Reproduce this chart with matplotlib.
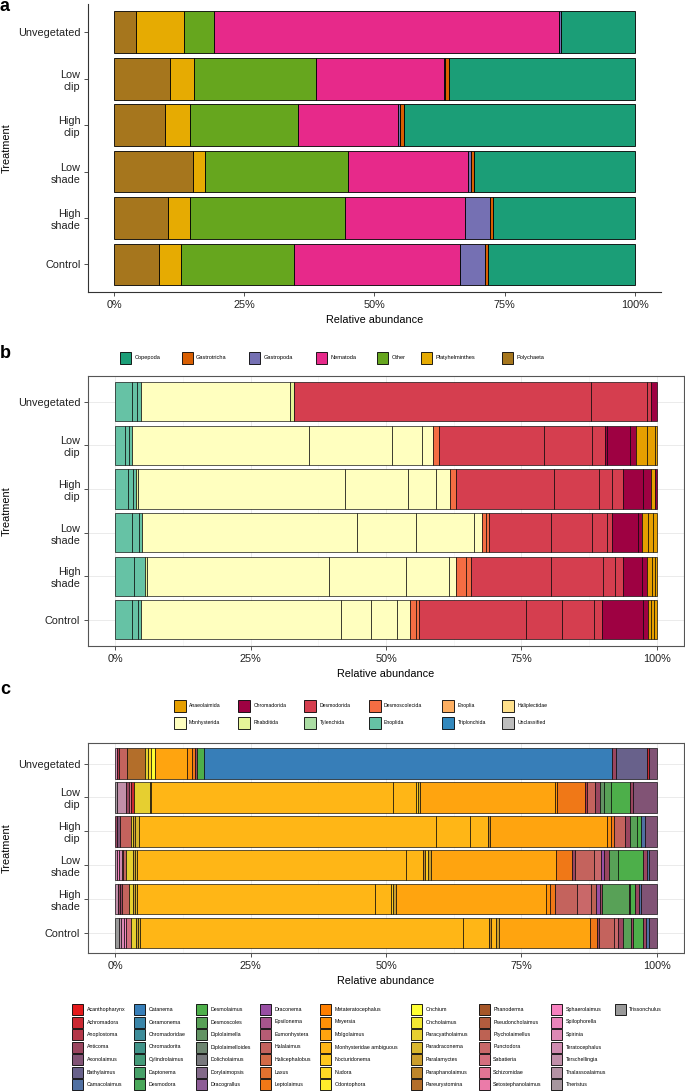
import numpy as np
import matplotlib
matplotlib.use("Agg")
import matplotlib.pyplot as plt
from matplotlib.patches import Rectangle

plt.rcParams['font.family'] = ['Liberation Sans', 'DejaVu Sans']

# ---------------- data ----------------
treatments = ["Unvegetated", "Low\nclip", "High\nclip", "Low\nshade", "High\nshade", "Control"]

# panel a (stack order left -> right), % per treatment
phyla = ["Polychaeta", "Platyhelminthes", "Other", "Nematoda", "Gastropoda", "Gastrotricha", "Copepoda"]
a_polychaeta = [4.2, 10.8, 9.7, 15.1, 10.3, 8.6]
a_platyhelminthes = [9.2, 4.5, 4.9, 2.4, 4.2, 4.3]
a_other = [5.8, 23.4, 20.7, 27.5, 29.8, 21.6]
a_nematoda = [66.2, 24.7, 19.3, 22.9, 23.1, 32.0]
a_gastropoda = [0.4, 0.2, 0.4, 0.6, 4.8, 4.8]
a_gastrotricha = [0.1, 0.8, 0.6, 0.7, 0.5, 0.6]
a_copepoda = [14.1, 35.6, 44.4, 30.8, 27.3, 28.1]

phylum_legend = ["Copepoda", "Gastrotricha", "Gastropoda", "Nematoda", "Other", "Platyhelminthes", "Polychaeta"]
phylum_colors = ["#1B9E77", "#D95F02", "#7570B3", "#E7298A", "#66A61E", "#E6AB02", "#A6761D"]

# panel b: nematode orders, segments left -> right
b_unveg_orders = ["Enoplida", "Enoplida", "Enoplida", "Monhysterida", "Rhabditida", "Desmodorida", "Desmodorida", "Desmodorida", "Chromadorida"]
b_unveg_values = [3.1, 1.0, 0.7, 27.5, 0.6, 54.8, 10.3, 0.8, 1.0]
b_lowclip_orders = ["Enoplida", "Enoplida", "Enoplida", "Monhysterida", "Monhysterida", "Monhysterida", "Monhysterida",
                    "Desmoscolecida", "Desmodorida", "Desmodorida", "Desmodorida", "Chromadorida", "Chromadorida",
                    "Chromadorida", "Anaeolaimida", "Anaeolaimida", "Anaeolaimida"]
b_lowclip_values = [1.9, 0.7, 0.6, 32.6, 15.4, 5.5, 2.0, 1.1, 19.4, 8.9, 2.4, 0.3, 4.3, 1.2, 1.9, 1.5, 0.4]
b_highclip_orders = ["Enoplida", "Enoplida", "Enoplida", "Rhabditida", "Monhysterida", "Monhysterida", "Monhysterida",
                     "Monhysterida", "Desmoscolecida", "Desmodorida", "Desmodorida", "Desmodorida", "Desmodorida",
                     "Chromadorida", "Chromadorida", "Anaeolaimida", "Chromadorida"]
b_highclip_values = [2.3, 1.0, 0.5, 0.4, 38.2, 11.6, 5.2, 2.6, 1.2, 18.0, 8.3, 2.5, 1.9, 3.7, 1.5, 0.8, 0.3]
b_lowshade_orders = ["Enoplida", "Enoplida", "Enoplida", "Monhysterida", "Monhysterida", "Monhysterida", "Monhysterida",
                     "Desmoscolecida", "Desmoscolecida", "Desmodorida", "Desmodorida", "Desmodorida", "Desmodorida",
                     "Chromadorida", "Chromadorida", "Anaeolaimida", "Anaeolaimida", "Anaeolaimida"]
b_lowshade_values = [3.1, 1.3, 0.5, 39.7, 11.0, 10.7, 1.4, 0.7, 0.7, 11.3, 7.7, 2.7, 1.0, 4.8, 0.7, 1.1, 0.9, 0.7]
b_highshade_orders = ["Enoplida", "Enoplida", "Rhabditida", "Monhysterida", "Monhysterida", "Monhysterida", "Monhysterida",
                      "Desmoscolecida", "Desmoscolecida", "Desmodorida", "Desmodorida", "Desmodorida", "Desmodorida",
                      "Chromadorida", "Chromadorida", "Anaeolaimida", "Anaeolaimida", "Anaeolaimida"]
b_highshade_values = [3.5, 2.0, 0.3, 33.7, 14.1, 8.1, 1.3, 1.8, 0.9, 14.7, 9.7, 2.1, 1.5, 3.6, 0.8, 1.0, 0.5, 0.4]
b_control_orders = ["Enoplida", "Enoplida", "Enoplida", "Monhysterida", "Monhysterida", "Monhysterida", "Monhysterida",
                    "Desmoscolecida", "Desmoscolecida", "Desmodorida", "Desmodorida", "Desmodorida", "Desmodorida",
                    "Chromadorida", "Chromadorida", "Anaeolaimida", "Anaeolaimida", "Anaeolaimida"]
b_control_values = [3.2, 1.0, 0.5, 37.0, 5.6, 4.7, 2.5, 1.0, 0.5, 19.9, 6.6, 5.8, 1.6, 7.6, 0.8, 0.6, 0.6, 0.5]

order_legend = ["Anaeolaimida", "Chromadorida", "Desmodorida", "Desmoscolecida", "Enoplia", "Haliplectidae",
                "Monhysterida", "Rhabditida", "Tylenchida", "Enoplida", "Triplonchida", "Unclassified"]
order_colors = ["#E69F00", "#9E0142", "#D53E4F", "#F46D43", "#FDAE61", "#FEE08B",
                "#FFFFBF", "#E6F598", "#ABDDA4", "#66C2A5", "#3288BD", "#BDBDBD"]

# panel c: genera, segments left -> right
genera = ["Acanthopharynx", "Achromadora", "Anoplostoma", "Anticoma", "Axonolaimus", "Bathylaimus", "Camacolaimus",
          "Catanema", "Ceramonema", "Chromadoridae", "Chromadorita", "Cylindrolaimus", "Daptonema", "Desmodora",
          "Desmolaimus", "Desmoscoles", "Diplolaimella", "Diplolaimelloides", "Dolicholaimus", "Dorylaimopsis", "Dracograllus",
          "Draconema", "Epsilonema", "Eumonhystera", "Halalaimus", "Halicephalobus", "Laxus", "Leptolaimus",
          "Metateratocephalus", "Meyersia", "Molgolaimus", "Monhysteridae ambiguous", "Nocturidonema", "Nudora", "Odontophora",
          "Onchium", "Oncholaimus", "Paracyatholaimus", "Paradraconema", "Paralamyctes", "Paraphanolaimus", "Pareurystomina",
          "Phanoderma", "Pseudoncholaimus", "Ptycholaimellus", "Punctodora", "Sabatieria", "Schizomidae", "Setostephanolaimus",
          "Sphaerolaimus", "Spilophorella", "Spirinia", "Teratocephalus", "Terschellingia", "Thalassoalaimus", "Theristus",
          "Trissonchulus"]

c_unveg_genera = ["Teratocephalus", "Anoplostoma", "Halalaimus", "Pareurystomina", "Paracyatholaimus", "Nudora", "Onchium",
                  "Molgolaimus", "Meyersia", "Leptolaimus", "Anticoma", "Desmolaimus", "Catanema", "Anticoma",
                  "Bathylaimus", "Achromadora", "Axonolaimus"]
c_unveg_values = [0.35, 0.4, 1.5, 3.3, 0.6, 0.4, 0.8, 5.9, 0.9, 0.5, 0.5, 1.2, 75.3, 0.6, 5.8, 0.3, 1.5]
c_lowclip_genera = ["Theristus", "Terschellingia", "Anticoma", "Sabatieria", "Achromadora", "Paracyatholaimus", "Paralamyctes",
                    "Monhysteridae ambiguous", "Monhysteridae ambiguous", "Nocturidonema", "Paradraconema", "Molgolaimus",
                    "Meyersia", "Leptolaimus", "Anoplostoma", "Halalaimus", "Anticoma", "Diplolaimella", "Desmoscoles",
                    "Desmolaimus", "Anticoma", "Axonolaimus"]
c_lowclip_values = [0.4, 1.7, 0.5, 0.4, 0.5, 2.9, 0.3, 44.6, 4.3, 0.4, 0.4, 24.8, 0.5, 5.1, 0.3, 1.6, 0.8, 0.9, 1.2,
                    3.5, 0.6, 4.4]
c_highclip_genera = ["Anticoma", "Axonolaimus", "Halalaimus", "Paracyatholaimus", "Paralamyctes", "Paradraconema",
                     "Monhysteridae ambiguous", "Monhysteridae ambiguous", "Monhysteridae ambiguous", "Paraphanolaimus",
                     "Molgolaimus", "Meyersia", "Leptolaimus", "Halalaimus", "Anticoma", "Desmoscoles", "Desmolaimus",
                     "Camacolaimus", "Axonolaimus"]
c_highclip_values = [0.4, 0.5, 2.0, 0.4, 0.4, 0.7, 54.9, 6.2, 3.4, 0.3, 21.5, 0.8, 0.5, 2.2, 0.9, 1.3, 0.6, 0.8, 2.2]
c_lowshade_genera = ["Terschellingia", "Sphaerolaimus", "Teratocephalus", "Punctodora", "Halalaimus", "Paracyatholaimus",
                     "Paralamyctes", "Paradraconema", "Monhysteridae ambiguous", "Monhysteridae ambiguous", "Paraphanolaimus",
                     "Nocturidonema", "Paralamyctes", "Molgolaimus", "Leptolaimus", "Anticoma", "Halalaimus", "Punctodora",
                     "Draconema", "Anticoma", "Desmoscoles", "Desmolaimus", "Anticoma", "Camacolaimus", "Axonolaimus"]
c_lowshade_values = [0.4, 0.4, 0.4, 0.3, 0.6, 1.2, 0.3, 0.4, 49.7, 3.1, 0.4, 0.6, 0.5, 23.1, 3.0, 0.4, 3.5, 1.4,
                     0.5, 0.9, 1.7, 4.7, 0.6, 0.5, 1.4]
c_highshade_genera = ["Terschellingia", "Anticoma", "Anticoma", "Halalaimus", "Paracyatholaimus", "Paralamyctes",
                      "Paradraconema", "Monhysteridae ambiguous", "Monhysteridae ambiguous", "Nocturidonema", "Paralamyctes",
                      "Molgolaimus", "Meyersia", "Leptolaimus", "Halalaimus", "Punctodora", "Ptycholaimellus", "Draconema",
                      "Anticoma", "Desmoscoles", "Anticoma", "Desmolaimus", "Anticoma", "Camacolaimus", "Axonolaimus"]
c_highshade_values = [0.6, 0.3, 0.3, 1.4, 0.7, 0.4, 0.4, 43.9, 2.9, 0.5, 0.5, 27.7, 0.7, 0.9, 4.2, 2.6, 0.9, 0.6,
                      0.5, 4.9, 0.3, 0.9, 0.6, 0.4, 3.0]
c_control_genera = ["Trissonchulus", "Terschellingia", "Spirinia", "Sphaerolaimus", "Sabatieria", "Paracyatholaimus",
                    "Paralamyctes", "Paradraconema", "Monhysteridae ambiguous", "Monhysteridae ambiguous", "Paraphanolaimus",
                    "Monhysteridae ambiguous", "Paralamyctes", "Molgolaimus", "Leptolaimus", "Anticoma", "Halalaimus",
                    "Punctodora", "Anticoma", "Desmoscoles", "Anticoma", "Desmolaimus", "Anticoma", "Camacolaimus",
                    "Axonolaimus"]
c_control_values = [0.7, 0.3, 0.6, 0.5, 0.8, 1.0, 0.3, 0.4, 59.7, 4.8, 0.2, 1.0, 0.5, 16.9, 1.3, 0.4, 2.6, 0.9,
                    0.9, 1.5, 0.3, 1.9, 0.5, 0.5, 1.5]

tick_pos = [0, 0.25, 0.5, 0.75, 1.0]
tick_labels = ["0%", "25%", "50%", "75%", "100%"]

# ---------------- colours for genera (Set1 ramp) ----------------
set1 = ["#E41A1C", "#377EB8", "#4DAF4A", "#984EA3", "#FF7F00", "#FFFF33", "#A65628", "#F781BF", "#999999"]
set1_rgb = np.array([matplotlib.colors.to_rgb(c) for c in set1])
ramp_t = np.linspace(0, len(set1) - 1, len(genera))
genus_rgb = np.array([np.interp(ramp_t, np.arange(len(set1)), set1_rgb[:, k]) for k in range(3)]).T
genus_color = {g: tuple(genus_rgb[i]) for i, g in enumerate(genera)}
order_color = dict(zip(order_legend, order_colors))
phylum_color = dict(zip(phylum_legend, phylum_colors))

# ---------------- figure ----------------
W, H = 685, 1091
fig = plt.figure(figsize=(W / 100, H / 100), dpi=100)


def rect(x0, y0, x1, y1):
    return [x0 / W, 1 - y1 / H, (x1 - x0) / W, (y1 - y0) / H]


ax_a = fig.add_axes(rect(88.2, 4.3, 660.7, 292.3))
ax_b = fig.add_axes(rect(88, 375.7, 684, 646))
ax_c = fig.add_axes(rect(88, 743.3, 684, 953.3))
ov = fig.add_axes([0, 0, 1, 1])
ov.set_xlim(0, W)
ov.set_ylim(H, 0)
ov.axis('off')

ypos = np.arange(len(treatments))[::-1]
FS = 7.8


def draw_stack(ax, bars, cmap, lw):
    for yi, (names, vals) in zip(ypos, bars):
        v = np.asarray(vals, float)
        v = v / v.sum()
        left = np.concatenate([[0], np.cumsum(v)[:-1]])
        ax.barh(np.full(len(v), yi), v, left=left, height=0.9,
                color=[cmap[n] for n in names], edgecolor='black', linewidth=lw)


# panel a
a_cols = [a_polychaeta, a_platyhelminthes, a_other, a_nematoda, a_gastropoda, a_gastrotricha, a_copepoda]
a_bars = [(phyla, [col[i] for col in a_cols]) for i in range(len(treatments))]
draw_stack(ax_a, a_bars, phylum_color, 0.6)

b_bars = [(b_unveg_orders, b_unveg_values), (b_lowclip_orders, b_lowclip_values),
          (b_highclip_orders, b_highclip_values), (b_lowshade_orders, b_lowshade_values),
          (b_highshade_orders, b_highshade_values), (b_control_orders, b_control_values)]
draw_stack(ax_b, b_bars, order_color, 0.45)

c_bars = [(c_unveg_genera, c_unveg_values), (c_lowclip_genera, c_lowclip_values),
          (c_highclip_genera, c_highclip_values), (c_lowshade_genera, c_lowshade_values),
          (c_highshade_genera, c_highshade_values), (c_control_genera, c_control_values)]
draw_stack(ax_c, c_bars, genus_color, 0.45)

for ax in (ax_a, ax_b, ax_c):
    ax.set_xlim(-0.05, 1.05)
    ax.set_ylim(-0.6, 5.6)
    ax.set_yticks(ypos)
    ax.set_yticklabels(treatments, fontsize=FS, color='#222222', linespacing=1.25)
    ax.set_xticks(tick_pos)
    ax.set_xticklabels(tick_labels, fontsize=FS, color='#222222')
    ax.tick_params(axis='both', which='major', length=3, width=0.6, color='#333333', pad=2.5)
    ax.set_xlabel("Relative abundance", fontsize=FS, labelpad=4)

ax_a.spines['top'].set_visible(False)
ax_a.spines['right'].set_visible(False)
for s in ('left', 'bottom'):
    ax_a.spines[s].set_color('#333333')
    ax_a.spines[s].set_linewidth(0.8)

for ax in (ax_b, ax_c):
    ax.set_axisbelow(True)
    ax.set_xticks([0.125, 0.375, 0.625, 0.875], minor=True)
    ax.tick_params(axis='x', which='minor', length=0)
    ax.grid(True, which='major', color='#EBEBEB', linewidth=0.7)
    ax.grid(True, which='minor', axis='x', color='#F2F2F2', linewidth=0.4)
    for s in ax.spines.values():
        s.set_color('#555555')
        s.set_linewidth(0.8)

# Treatment labels and panel letters
for yc in ((4.3 + 292.3) / 2, (375.7 + 646) / 2, (743.3 + 953.3) / 2):
    ov.text(7, yc, "Treatment", rotation=90, ha='center', va='center', fontsize=FS)
ov.text(0, 11, "a", fontsize=13, fontweight='bold', ha='left', va='baseline')
ov.text(0, 358, "b", fontsize=13, fontweight='bold', ha='left', va='baseline')
ov.text(0, 694, "c", fontsize=13, fontweight='bold', ha='left', va='baseline')


def key(xc, yc, w, h, color, label, fs):
    ov.add_patch(Rectangle((xc - w / 2, yc - h / 2), w, h, facecolor=color, edgecolor='black', linewidth=0.6))
    ov.text(xc + w / 2 + 3.5, yc, label, ha='left', va='center', fontsize=fs)


# phylum legend (panel a)
phylum_key_x = [126, 187.2, 255, 321.5, 382.8, 426.5, 507.4]
for xk, lab, col in zip(phylum_key_x, phylum_legend, phylum_colors):
    key(xk, 357.7, 11, 12, col, lab, 4.1)

# order legend (panel b)
order_key_x = [179.6, 243.8, 310, 374.6, 448.5, 508]
order_key_y = [705.7, 722.7]
for i, (lab, col) in enumerate(zip(order_legend, order_colors)):
    key(order_key_x[i % 6], order_key_y[i // 6], 12, 12, col, lab, 3.7)

# genus legend (panel c)
genus_key_x = [77.9, 140, 201.2, 265.5, 325.9, 416.5, 484.2, 556.4, 620.3]
genus_key_y = [1009.3, 1022, 1034.3, 1047, 1059.7, 1072.3, 1084.7]
for i, g in enumerate(genera):
    key(genus_key_x[i // 7], genus_key_y[i % 7], 11, 11, genus_color[g], g, 3.8)

fig.savefig("out.png", dpi=100)
